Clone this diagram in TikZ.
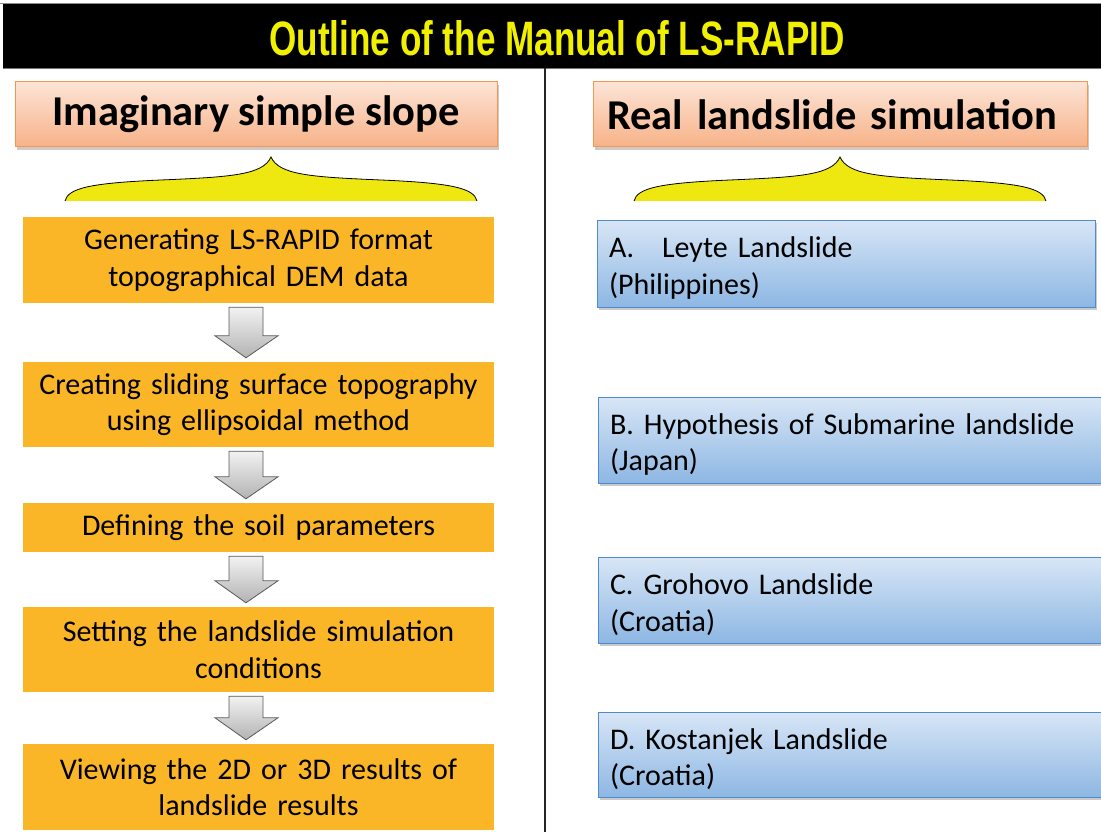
\documentclass[tikz,border=0pt]{standalone}
\usepackage{fontspec}
\usepackage{graphicx}
\setmainfont{Carlito}
\newfontfamily\titlefont{Liberation Sans}
\usetikzlibrary{calc,shadows}
\definecolor{boxorange}{RGB}{251,182,40}
\definecolor{hdtop}{RGB}{252,228,214}
\definecolor{hdbot}{RGB}{247,178,136}
\definecolor{hdborder}{RGB}{247,150,80}
\definecolor{bltop}{RGB}{216,230,246}
\definecolor{blbot}{RGB}{141,183,227}
\definecolor{blborder}{RGB}{79,140,205}
\definecolor{braceyellow}{RGB}{238,232,16}
\definecolor{titleyellow}{RGB}{240,240,0}
\newcommand\topgap{\rule{0pt}{30pt}}
\tikzset{
  stepbox/.style={fill=boxorange, draw=none, inner sep=0pt, align=center,
    minimum width=471pt, text width=465pt,
    font=\fontsize{30}{36.5}\selectfont},
  casebox/.style={top color=bltop, bottom color=blbot, draw=blborder, line width=1pt,
    inner xsep=12pt, inner ysep=0pt, align=left,
    drop shadow={shadow xshift=2pt, shadow yshift=-3pt, opacity=0.35, fill=black!60},
    font=\fontsize{30}{36.5}\selectfont},
  headbox/.style={top color=hdtop, bottom color=hdbot, draw=hdborder, line width=1pt,
    minimum height=65pt, inner sep=0pt,
    drop shadow={shadow xshift=2pt, shadow yshift=-3pt, opacity=0.35, fill=black!60},
    font=\fontsize{42.5}{46}\selectfont\bfseries},
  barrow/.style={draw=black!65, line width=0.8pt, top color=white!95!black, bottom color=black!30},
  bracefill/.style={fill=braceyellow},
  braceline/.style={draw=black, line width=0.8pt}
}
\newcommand\blockarrow[2]{%
  \path[barrow] let \p1=(#1.south), \p2=(#2.north) in
    (229pt,\y1-4pt) -- (263pt,\y1-4pt) -- (263pt,\y2+26pt) -- (278pt,\y2+26pt)
    -- (246pt,\y2+4pt) -- (215pt,\y2+26pt) -- (229pt,\y2+26pt) -- cycle;}
\newcommand\bracepath[1]{%
  (#1-206,-201) .. controls (#1-203,-188) and (#1-180,-183) .. (#1-110,-180)
  .. controls (#1-40,-177) and (#1-8,-175) .. (#1,-157)
  .. controls (#1+8,-175) and (#1+40,-177) .. (#1+110,-180)
  .. controls (#1+180,-183) and (#1+203,-188) .. (#1+206,-201)}
\begin{document}
\begin{tikzpicture}[x=1pt,y=1pt]
\useasboundingbox (0,0) rectangle (1101,-832);
% title bar
\fill[black] (3,-4) rectangle (1101,-68);
\draw[black!45, line width=0.8pt] (0,-3.5) -- (1101,-3.5);
\draw[black!55, line width=0.8pt] (3,-68.5) -- (1101,-68.5);
\node[inner sep=0pt, text=titleyellow] (title) at (557,-38.5)
  {\resizebox{575pt}{35pt}{\titlefont\bfseries Outline of the Manual of LS-RAPID}};
% separator
\draw[black!85, line width=1.6pt] (545,-68) -- (545,-832);
% headers
\node[headbox, minimum width=482pt] (hl) at (256,-114.5) {Imaginary simple slope};
\node[headbox, minimum width=494pt, text width=466pt, align=left] (hr) at (840,-114.5) {Real landslide simulation};
% braces
\fill[bracefill] \bracepath{271} -- cycle;
\draw[braceline] \bracepath{271};
\fill[bracefill] \bracepath{840} -- cycle;
\draw[braceline] \bracepath{840};
% left steps
\node[stepbox, minimum height=86pt] (s1) at (258.5,-260) {Generating LS-RAPID format\\topographical DEM data};
\node[stepbox, minimum height=85pt] (s2) at (258.5,-404.5) {Creating sliding surface topography\\using ellipsoidal method};
\node[stepbox, minimum height=49pt] (s3) at (258.5,-527.5) {Defining the soil parameters};
\node[stepbox, minimum height=85pt] (s4) at (258.5,-649.5) {Setting the landslide simulation\\conditions};
\node[stepbox, minimum height=86pt] (s5) at (258.5,-787) {Viewing the 2D or 3D results of\\landslide results};
\blockarrow{s1}{s2}
\blockarrow{s2}{s3}
\blockarrow{s3}{s4}
\blockarrow{s4}{s5}
% right cases
\node[casebox, minimum width=498pt, text width=474pt, minimum height=87pt] (ca) at (846,-263.5) {\topgap A.\hspace{28pt}Leyte Landslide\\(Philippines)};
\node[casebox, minimum width=506pt, text width=482pt, minimum height=86pt] (cb) at (851,-440) {\topgap B. Hypothesis of Submarine landslide\\(Japan)};
\node[casebox, minimum width=506pt, text width=482pt, minimum height=86pt] (cc) at (851,-600) {\topgap C. Grohovo Landslide\\(Croatia)};
\node[casebox, minimum width=506pt, text width=482pt, minimum height=85pt] (cd) at (851,-754.5) {\topgap D. Kostanjek Landslide\\(Croatia)};
\end{tikzpicture}
\end{document}
